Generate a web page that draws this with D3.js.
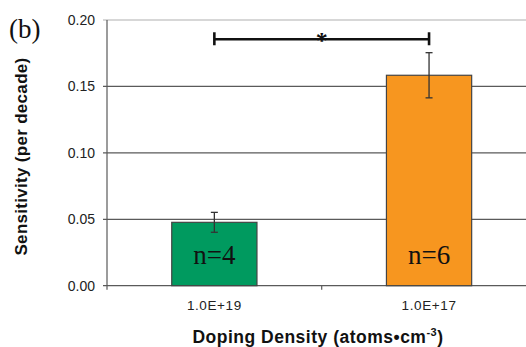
<!DOCTYPE html>
<html><head><meta charset="utf-8">
<script src="https://cdn.jsdelivr.net/npm/d3@7"></script>
<style>body{margin:0;background:#fff}svg{display:block}</style>
</head><body>
<svg id="c" width="526" height="347"></svg>
<script>
const categories = ["1.0E+19", "1.0E+17"];
const values = [0.0477, 0.1584];
const errors = [0.0075, 0.017];
const nLabels = ["n=4", "n=6"];
const colors = ["#009A5F", "#F7961F"];
const yTicks = [0, 0.05, 0.10, 0.15, 0.20];
const bracketValue = 0.1855;

const svg = d3.select("#c");
const L = 107, R = 536.4, T = 20, B = 285.7;
const x = d3.scaleBand().domain(categories).range([L, R]);
const y = d3.scaleLinear().domain([0, 0.2]).range([B, T]);
const bw = x.bandwidth() * 0.397;
const cx = c => x(c) + x.bandwidth() / 2;

// grid
svg.append("g").selectAll("line").data(yTicks).join("line")
  .attr("x1", L - 4).attr("x2", 526)
  .attr("y1", d => y(d)).attr("y2", d => y(d))
  .attr("stroke", d => d === 0.2 ? "#b0b0b0" : "#5a5a5a").attr("stroke-width", 1.2);

// y axis
const yAxis = svg.append("g").attr("transform", `translate(${L},0)`)
  .call(d3.axisLeft(y).tickValues(yTicks).tickFormat(d3.format(".2f")).tickSize(4).tickPadding(8));
yAxis.select(".domain").remove();
yAxis.selectAll(".tick line").remove();
yAxis.selectAll("text").attr("font-family", "Liberation Sans, Arial, sans-serif")
  .attr("font-size", 14).attr("fill", "#222");
svg.append("line").attr("x1", L).attr("x2", L).attr("y1", T).attr("y2", B + 4)
  .attr("stroke", "#5a5a5a").attr("stroke-width", 1.2);

// x axis
const xAxis = svg.append("g").attr("transform", `translate(0,${B})`)
  .call(d3.axisBottom(x).tickSize(0).tickPadding(15));
xAxis.select(".domain").remove();
xAxis.selectAll("text").attr("font-family", "Liberation Sans, Arial, sans-serif")
  .attr("font-size", 13.5).attr("fill", "#222").attr("letter-spacing", 0.6);
svg.append("line").attr("x1", x(categories[1])).attr("x2", x(categories[1]))
  .attr("y1", B).attr("y2", B + 4).attr("stroke", "#5a5a5a").attr("stroke-width", 1.2);

// bars
svg.append("g").selectAll("rect").data(categories).join("rect")
  .attr("x", d => cx(d) - bw / 2).attr("width", bw)
  .attr("y", (d, i) => y(values[i])).attr("height", (d, i) => y(0) - y(values[i]))
  .attr("fill", (d, i) => colors[i]).attr("stroke", "#444").attr("stroke-width", 1.2);

// error bars
const eg = svg.append("g").attr("stroke", "#333").attr("stroke-width", 1.3);
categories.forEach((c, i) => {
  const xc = cx(c), hi = y(values[i] + errors[i]), lo = y(values[i] - errors[i]);
  eg.append("line").attr("x1", xc).attr("x2", xc).attr("y1", hi).attr("y2", lo);
  eg.append("line").attr("x1", xc - 3.5).attr("x2", xc + 3.5).attr("y1", hi).attr("y2", hi);
  eg.append("line").attr("x1", xc - 3.5).attr("x2", xc + 3.5).attr("y1", lo).attr("y2", lo);
});

// n labels
svg.append("g").selectAll("text").data(nLabels).join("text")
  .attr("x", (d, i) => cx(categories[i])).attr("y", B - 21.5)
  .attr("text-anchor", "middle").attr("font-family", "Liberation Serif, Times New Roman, serif")
  .attr("font-size", 27).attr("fill", "#111").text(d => d);

// significance bracket
const by = y(bracketValue), x1 = cx(categories[0]), x2 = cx(categories[1]);
const bg = svg.append("g").attr("stroke", "#111").attr("stroke-width", 2.6);
bg.append("line").attr("x1", x1).attr("x2", x2).attr("y1", by).attr("y2", by);
bg.append("line").attr("x1", x1).attr("x2", x1).attr("y1", by - 7).attr("y2", by + 6);
bg.append("line").attr("x1", x2).attr("x2", x2).attr("y1", by - 7).attr("y2", by + 6);
svg.append("text").attr("x", (x1 + x2) / 2).attr("y", by + 9)
  .attr("text-anchor", "middle").attr("font-family", "Liberation Serif, Times New Roman, serif")
  .attr("font-size", 24).attr("font-weight", "bold").attr("fill", "#111").text("*");

// titles
svg.append("text").attr("x", 9).attr("y", 38)
  .attr("font-family", "Liberation Serif, Times New Roman, serif").attr("font-size", 27)
  .attr("fill", "#111").text("(b)");
svg.append("text").attr("transform", "translate(27,156.5) rotate(-90)")
  .attr("text-anchor", "middle").attr("font-family", "Liberation Sans, Arial, sans-serif")
  .attr("font-weight", "bold").attr("font-size", 17).attr("letter-spacing", 0.3).attr("fill", "#111")
  .text("Sensitivity (per decade)");
const xt = svg.append("text").attr("x", 318).attr("y", 343)
  .attr("text-anchor", "middle").attr("font-family", "Liberation Sans, Arial, sans-serif")
  .attr("font-weight", "bold").attr("font-size", 17.5).attr("letter-spacing", 0.5).attr("fill", "#111");
xt.append("tspan").text("Doping Density (atoms•cm");
xt.append("tspan").attr("dy", -7).attr("font-size", 11).text("-3");
xt.append("tspan").attr("dy", 7).text(")");
</script>
</body></html>
